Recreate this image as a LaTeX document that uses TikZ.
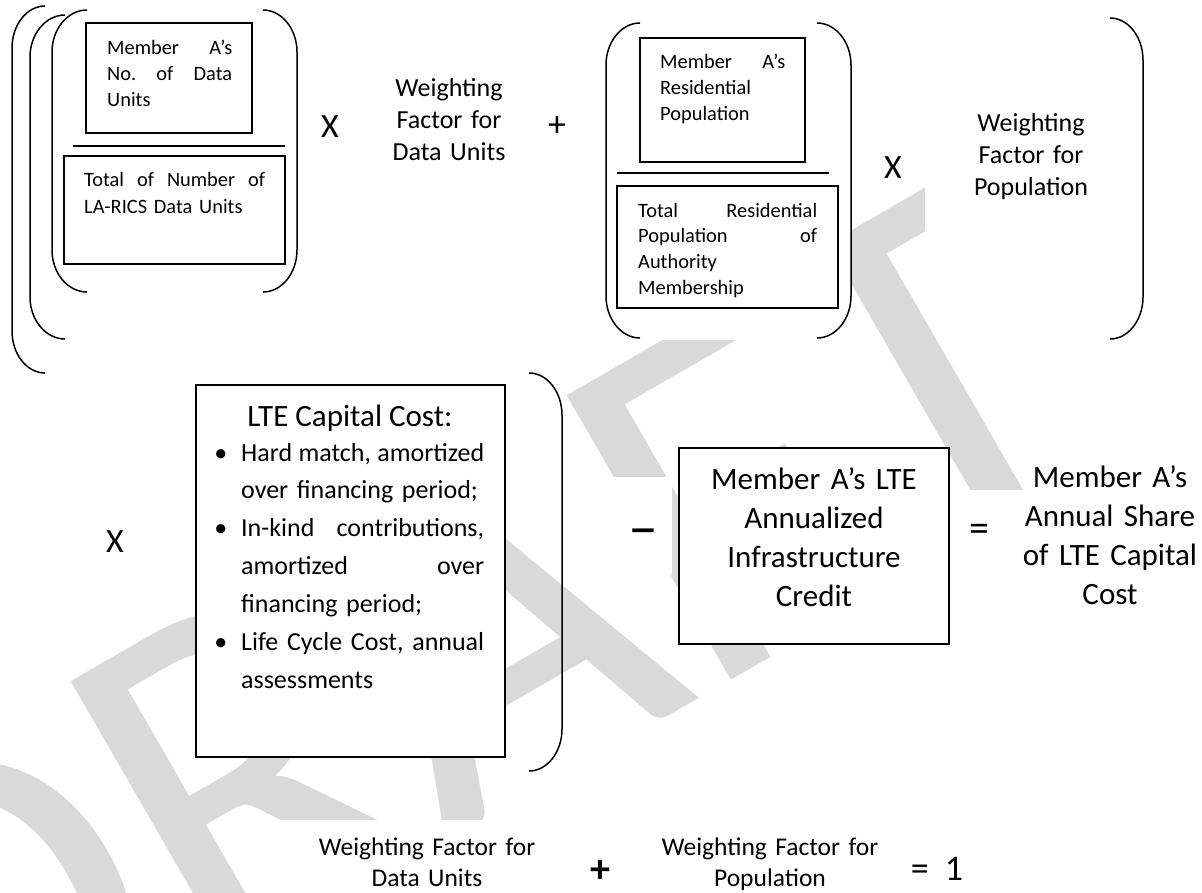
\documentclass[tikz,border=0pt]{standalone}
\usepackage{fontspec}
\setmainfont{Carlito}
\frenchspacing
\definecolor{wmgray}{RGB}{217,217,217}
% one justified line of a given width
\newcommand{\jline}[2]{\leavevmode{\spaceskip=0pt\xspaceskip=0pt\makebox[#1pt][s]{#2}}}
\newcommand{\bulletmark}{\leavevmode\llap{\textbullet\hskip 14pt}}
% round brackets: tip x, side x, top y, bottom y
\newcommand{\leftcurve}[4]{\draw[paren] (#1,#3) .. controls ({#2+0.448*(#1-#2)},#3) and (#2,{#3+19}) .. (#2,{#3+42}) -- (#2,{#4-42}) .. controls (#2,{#4-19}) and ({#2+0.448*(#1-#2)},#4) .. (#1,#4);}
\newcommand{\rightcurve}[4]{\draw[paren] (#1,#3) .. controls ({#2+0.448*(#1-#2)},#3) and (#2,{#3+19}) .. (#2,{#3+42}) -- (#2,{#4-42}) .. controls (#2,{#4-19}) and ({#2+0.448*(#1-#2)},#4) .. (#1,#4);}
\begin{document}
\begin{tikzpicture}[x=1pt, y=-1pt,
	frame/.style={line width=1.6pt, fill=white},
	paren/.style={line width=1.5pt},
	fracbar/.style={line width=1.5pt},
	boxtext/.style={inner sep=0pt, anchor=base west, align=left, font=\fontsize{20.4}{26}\selectfont},
	bigtext/.style={inner sep=0pt, anchor=base, align=center, text width=220pt, font=\fontsize{31}{39.3}\selectfont},
	factor/.style={inner sep=0pt, anchor=base, align=center, text width=220pt, font=\fontsize{26}{32}\selectfont},
	sign/.style={inner sep=1pt, fill=white},
	blank/.style={fill=white, draw=none}]
	\useasboundingbox (0,0) rectangle (1202,892);

	% watermark
	\node[rotate=30, anchor=base west, inner sep=0pt, text=wmgray, font=\fontsize{512}{512}\selectfont] (wm) at (-69,1142) {DRAFT};
	\fill[blank] (606,23) rectangle (851,340);
	\fill[blank] (925,90) rectangle (1105,230);
	\fill[blank] (276,820) rectangle (563,892);
	\fill[blank] (577,820) rectangle (900,892);
	\fill[blank] (600,477) rectangle (672,575);
	\fill[blank] (955,490) rectangle (1202,615);

	% first row, data units
	\leftcurve{45}{12}{6}{373}
	\leftcurve{65}{30}{15}{339}
	\leftcurve{87}{52}{10}{292}
	\rightcurve{263}{297}{10}{292}
	\draw[frame] (86,23) rectangle (252,133);
	\node[boxtext, text width=125pt] (unitsA) at (107,54) {\jline{125}{Member A's}\\ \jline{125}{No. of Data}\\ Units};
	\draw[fracbar] (73,146) -- (285,146);
	\draw[frame] (64,156) rectangle (285,264);
	\node[boxtext, text width=181pt, font=\fontsize{20.4}{27}\selectfont] (unitsAll) at (84,186) {\jline{181}{Total of Number of}\\ LA-RICS Data Units};
	\node[sign, anchor=center, font=\fontsize{34}{34}\selectfont] (times1) at (330,127) {X};
	\node[factor] (wfUnits) at (449,96) {Weighting\\ Factor for\\ Data Units};
	\node[sign, anchor=center, font=\fontsize{36}{36}\selectfont] (plus1) at (557,127) {+};

	% first row, population
	\leftcurve{640}{606}{23}{338}
	\rightcurve{817}{851}{23}{338}
	\draw[frame] (640,38) rectangle (805,162);
	\node[boxtext, text width=125pt] (popA) at (660,68) {\jline{125}{Member A's}\\ Residential\\ Population};
	\draw[fracbar] (617,173) -- (829,173);
	\draw[frame] (617,186) rectangle (838,308);
	\node[boxtext, text width=179pt, font=\fontsize{20.4}{25.7}\selectfont] (popAll) at (638,217) {\jline{179}{Total Residential}\\ \jline{179}{Population of}\\ Authority\\ Membership};
	\node[sign, anchor=center, font=\fontsize{34}{34}\selectfont] (times2) at (893,168) {X};
	\node[factor] (wfPop) at (1031,131) {Weighting\\ Factor for\\ Population};
	\rightcurve{1110}{1143}{18}{339}

	% second row
	\node[sign, anchor=center, font=\fontsize{34}{34}\selectfont] (times3) at (115,542) {X};
	\draw[frame] (196,385) rectangle (505,757);
	\node[inner sep=0pt, anchor=base, font=\fontsize{31}{31}\selectfont] (capTitle) at (350,426) {LTE Capital Cost:};
	\node[boxtext, text width=243pt, font=\fontsize{26}{37.95}\selectfont] (capList) at (241,461)
		{\bulletmark\jline{243}{Hard match, amortized}\\
		 over financing period;\\
		 \bulletmark\jline{243}{In-kind contributions,}\\
		 \jline{243}{amortized over}\\
		 financing period;\\
		 \bulletmark\jline{243}{Life Cycle Cost, annual}\\
		 assessments};
	\rightcurve{529}{562}{373}{771}
	\node[inner sep=0pt, anchor=base, font=\fontsize{60}{60}\selectfont] (minus) at (643,547) {--};
	\draw[frame] (679,448) rectangle (949,644);
	\node[bigtext] (credit) at (814,489) {Member A's LTE\\ Annualized\\ Infrastructure\\ Credit};
	\node[inner sep=0pt, anchor=base, font=\fontsize{40}{40}\selectfont] (equals) at (979,541) {=};
	\node[bigtext] (share) at (1110,487) {Member A's\\ Annual Share\\ of LTE Capital\\ Cost};

	% third row
	\node[factor, font=\fontsize{25.5}{31}\selectfont] (sumUnits) at (427,855) {Weighting Factor for\\ Data Units};
	\node[sign, anchor=center, font=\bfseries\fontsize{40}{40}\selectfont] (plus2) at (600,871) {+};
	\node[factor, font=\fontsize{25.5}{31}\selectfont] (sumPop) at (770,855) {Weighting Factor for\\ Population};
	\node[inner sep=0pt, anchor=base, font=\fontsize{36}{36}\selectfont] (one) at (937,880) {=\ \ 1};
\end{tikzpicture}
\end{document}
